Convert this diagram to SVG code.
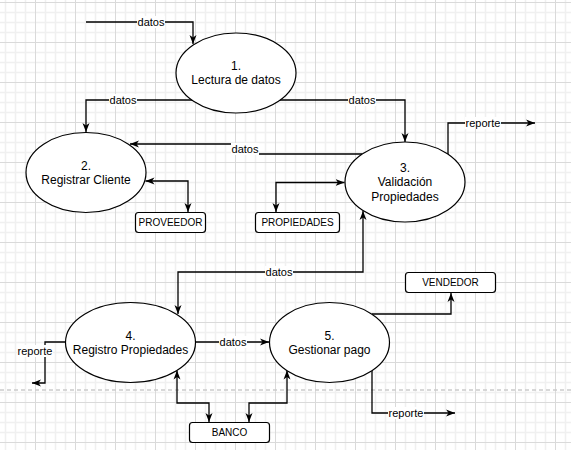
<svg xmlns="http://www.w3.org/2000/svg" width="571" height="450" viewBox="0 0 571 450">
<style>
.el{fill:#fff;stroke:#000;stroke-width:1.2}
.box{fill:#fff;stroke:#000;stroke-width:1.2}
.nt{font-family:"Liberation Sans",Arial,sans-serif;font-size:12px;fill:#000;text-anchor:middle}
.bt{font-family:"Liberation Sans",Arial,sans-serif;font-size:10px;fill:#000;text-anchor:middle}
.lt{font-family:"Liberation Sans",Arial,sans-serif;font-size:11px;fill:#000;text-anchor:middle}
.lb{fill:#fff}
.c{fill:none;stroke:#000;stroke-width:1.3}
.e{marker-end:url(#arr)}
.b{marker-start:url(#arr);marker-end:url(#arr)}
</style>
<defs>
<pattern id="grid" patternUnits="userSpaceOnUse" x="35" y="2" width="40" height="40">
<path d="M10.5 0V40M20.5 0V40M30.5 0V40M0 10.5H40M0 20.5H40M0 30.5H40" stroke="#f0f0f0" stroke-width="1.5" fill="none"/>
<path d="M0.5 0V40M0 0.5H40" stroke="#dadada" stroke-width="1" fill="none"/>
</pattern>
<marker id="arr" markerUnits="userSpaceOnUse" markerWidth="10" markerHeight="8" refX="9" refY="4" orient="auto-start-reverse">
<path d="M0 0.5L9 4L0 7.5L2.5 4Z" fill="#000"/>
</marker>
</defs>
<rect width="571" height="450" fill="#fff"/>
<rect width="571" height="450" fill="url(#grid)"/>
<line x1="0" y1="390" x2="571" y2="390" stroke="#cccccc" stroke-width="1.5" stroke-dasharray="4 3"/>

<g id="connectors">
<path class="c e" d="M86 22H193V44"/>
<path class="c e" d="M192 100H86V132"/>
<path class="c e" d="M280 100H405V142"/>
<path class="c e" d="M362 154H245V144H130"/>
<path class="c e" d="M448 154V123H535"/>
<path class="c b" d="M145.5 181H188V212"/>
<path class="c b" d="M344.5 182.5H276V212"/>
<path class="c b" d="M363 211V272H178V314"/>
<path class="c e" d="M195 342H269"/>
<path class="c e" d="M65 342H45V383H32"/>
<path class="c b" d="M177 370.5V403H209V422"/>
<path class="c b" d="M249 422V403H287V370.5"/>
<path class="c e" d="M372 314H451V293"/>
<path class="c e" d="M372 370V413H455"/>
<g id="labels">
<rect class="lb" x="137" y="16" width="28" height="12"/><text class="lt" x="151" y="26">datos</text>
<rect class="lb" x="109" y="94" width="28" height="12"/><text class="lt" x="123" y="104">datos</text>
<rect class="lb" x="348" y="94" width="28" height="12"/><text class="lt" x="362" y="104">datos</text>
<rect class="lb" x="231" y="143" width="28" height="12"/><text class="lt" x="245" y="153">datos</text>
<rect class="lb" x="465" y="117" width="36" height="12"/><text class="lt" x="483" y="127">reporte</text>
<rect class="lb" x="265" y="266" width="28" height="12"/><text class="lt" x="279" y="276">datos</text>
<rect class="lb" x="219" y="336" width="28" height="12"/><text class="lt" x="233" y="346">datos</text>
<rect class="lb" x="17" y="345" width="36" height="12"/><text class="lt" x="35" y="355">reporte</text>
<rect class="lb" x="388" y="407" width="36" height="12"/><text class="lt" x="406" y="417">reporte</text>
</g>
</g>

<g id="node1">
<ellipse class="el" cx="236" cy="73" rx="60" ry="40"/>
<text class="nt" x="236" y="70">1.</text>
<text class="nt" x="236" y="84.4">Lectura de datos</text>
</g>
<g id="node2">
<ellipse class="el" cx="86" cy="172.5" rx="60" ry="40"/>
<text class="nt" x="86" y="169.5">2.</text>
<text class="nt" x="86" y="183.9">Registrar Cliente</text>
</g>
<g id="node3">
<ellipse class="el" cx="405" cy="182" rx="60" ry="40"/>
<text class="nt" x="405" y="171.8">3.</text>
<text class="nt" x="405" y="186.2">Validación</text>
<text class="nt" x="405" y="200.6">Propiedades</text>
</g>
<g id="node4">
<ellipse class="el" cx="130.5" cy="342.5" rx="65" ry="40"/>
<text class="nt" x="130.5" y="339.5">4.</text>
<text class="nt" x="130.5" y="353.9">Registro Propiedades</text>
</g>
<g id="node5">
<ellipse class="el" cx="329.5" cy="342.5" rx="60" ry="40"/>
<text class="nt" x="329.5" y="339.5">5.</text>
<text class="nt" x="329.5" y="353.9">Gestionar pago</text>
</g>
<g id="proveedor">
<rect class="box" x="135.5" y="212.5" width="70" height="20" rx="3"/>
<text class="bt" x="170.5" y="226">PROVEEDOR</text>
</g>
<g id="propiedades">
<rect class="box" x="255.5" y="212.5" width="84" height="20" rx="3"/>
<text class="bt" x="297.5" y="226">PROPIEDADES</text>
</g>
<g id="banco">
<rect class="box" x="189.5" y="422.5" width="80" height="20" rx="3"/>
<text class="bt" x="229.5" y="436">BANCO</text>
</g>
<g id="vendedor">
<rect class="box" x="405.5" y="272.5" width="90" height="20" rx="3"/>
<text class="bt" x="450.5" y="286">VENDEDOR</text>
</g>
</svg>
